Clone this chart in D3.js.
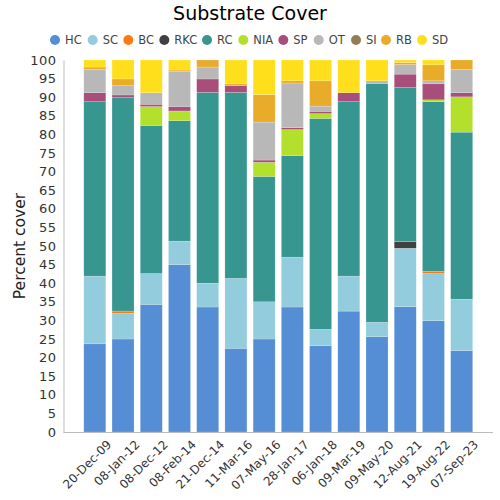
<!DOCTYPE html>
<html><head><meta charset="utf-8">
<script src="https://cdn.jsdelivr.net/npm/d3@7"></script>
<style>body{margin:0;background:#fff}svg{display:block}</style>
</head><body>
<svg id="c" width="500" height="500"></svg>
<script>
const dates = ["20-Dec-09","08-Jan-12","08-Dec-12","08-Feb-14","21-Dec-14","11-Mar-16","07-May-16","28-Jan-17","06-Jan-18","09-Mar-19","09-May-20","12-Aug-21","19-Aug-22","07-Sep-23"];
const categories = ["HC","SC","BC","RKC","RC","NIA","SP","OT","SI","RB","SD"];
const colors = ["#558ed5","#93cddd","#ff7a10","#404040","#379790","#b3e02c","#a94d7a","#b8b8b8","#947d53","#e9ab2a","#ffdf1b"];
const HC  = [23.7,25.0,34.3,45.0,33.6,22.5,25.0,33.6,23.2,32.5,25.6,33.7,29.9,21.9];
const SC  = [18.2,6.9,8.3,6.3,6.4,18.8,10.0,13.4,4.4,9.4,3.9,15.7,12.7,13.8];
const BC  = [0,0.6,0,0,0,0,0,0,0,0,0,0,0.6,0];
const RKC = [0,0,0,0,0,0,0,0,0,0,0,1.8,0,0];
const RC  = [46.9,57.5,39.8,32.4,51.3,50.0,33.7,27.3,56.7,46.9,64.2,41.4,45.6,44.9];
const NIA = [0,0,5.1,2.6,0,0,3.8,7.0,1.3,0,0,0,0.5,9.5];
const SP  = [2.4,0.6,0.6,1.2,3.6,1.8,0.6,0.5,0.6,2.4,0,3.6,4.3,1.1];
const OT  = [6.3,2.5,3.1,9.4,3.2,0,10.2,12.0,1.4,0,0.7,2.6,0.8,6.3];
const SI  = [0,0,0,0,0,0,0,0,0,0,0,0,0,0];
const RB  = [0.6,1.8,0,0.4,1.9,0.5,7.4,0.6,6.8,0,0,0.5,4.3,2.5];
const SD  = [1.9,5.1,8.8,2.7,0,6.4,9.3,5.6,5.6,8.8,5.6,0.7,1.3,0];
const yTicks = d3.range(0,101,5);

const series = [HC,SC,BC,RKC,RC,NIA,SP,OT,SI,RB,SD];
const table = dates.map((d,i)=>{const o={date:d};categories.forEach((c,k)=>o[c]=series[k][i]);return o;});
const stack = d3.stack().keys(categories)(table);

const svg = d3.select("#c");
const m = {l:63.5,r:493,t:60,b:432};
const x = d3.scaleBand().domain(dates).range([m.l,m.r]).paddingInner(0.22).paddingOuter(0.72);
const y = d3.scaleLinear().domain([0,100]).range([m.b,m.t]);
const color = d3.scaleOrdinal().domain(categories).range(colors);

svg.append("g").selectAll("g").data(stack).join("g")
  .attr("fill",d=>color(d.key))
  .selectAll("rect").data(d=>d).join("rect")
  .attr("x",d=>x(d.data.date))
  .attr("width",x.bandwidth())
  .attr("y",d=>y(d[1]))
  .attr("height",d=>Math.max(0,y(d[0])-y(d[1])))
  .attr("stroke","#ffffff").attr("stroke-opacity",0.35).attr("stroke-width",0.5);

// y axis
const ya = svg.append("g").attr("transform",`translate(${m.l},0)`)
  .call(d3.axisLeft(y).tickValues(yTicks).tickSize(0).tickPadding(7));
ya.select(".domain").attr("stroke","#bbbbbb");
ya.selectAll("text").attr("font-family","DejaVu Sans").attr("font-size",13).attr("fill","#333").attr("letter-spacing","0.5px");

// x axis
const xa = svg.append("g").attr("transform",`translate(0,${m.b})`)
  .call(d3.axisBottom(x).tickSize(0).tickPadding(6));
xa.select(".domain").attr("stroke","#bbbbbb").attr("d",`M${m.l},0.5H${m.r}`);
xa.selectAll("text").attr("font-family","DejaVu Sans").attr("font-size",12).attr("fill","#333")
  .attr("text-anchor","end").attr("transform","translate(8,4) rotate(-45)").attr("dy","0.6em");

// title
svg.append("text").attr("x",250).attr("y",20).attr("text-anchor","middle")
  .attr("font-family","DejaVu Sans").attr("font-size",19).attr("fill","#000").text("Substrate Cover");

// y label
svg.append("text").attr("transform","translate(25,246) rotate(-90)").attr("text-anchor","middle")
  .attr("font-family","DejaVu Sans").attr("font-size",15.5).attr("fill","#222").text("Percent cover");

// legend
const legTextX = [65,102.7,138.3,174.3,217,253.3,293.3,328.7,366,396,432];
const lg = svg.append("g").selectAll("g").data(categories).join("g")
  .attr("transform",(d,i)=>`translate(${legTextX[i]},40)`);
lg.append("circle").attr("cx",-10).attr("r",5).attr("fill",d=>color(d));
lg.append("text").attr("x",0).attr("dy","0.36em").attr("font-family","DejaVu Sans").attr("font-size",11.5).attr("fill","#444").text(d=>d);
</script>
</body></html>
